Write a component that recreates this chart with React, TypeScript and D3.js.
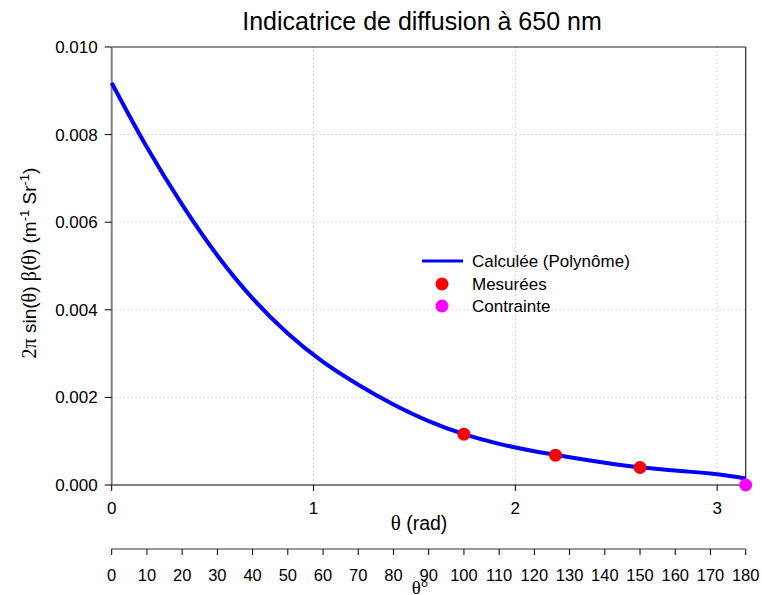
import React from "react";
import * as d3 from "d3";

const curveDeg = [0, 10, 20, 30, 40, 50, 60, 70, 80, 90, 100, 110, 120, 130, 140, 150, 160, 170, 175, 180];
const curveVal = [0.00918, 0.00771, 0.0064, 0.00524, 0.00426, 0.00346, 0.00281, 0.00229, 0.00184, 0.00146, 0.00116, 0.00094, 0.00077, 0.000635, 0.00051, 0.000405, 0.00033, 0.00026, 0.00021, 0.00015];
const measuredDeg = [100, 126, 150];
const measuredVal = [0.00116, 0.00068, 0.0004];
const constraintDeg = [180];
const constraintVal = [0];
const yTicks = [0, 0.002, 0.004, 0.006, 0.008, 0.01];
const radTicks = [0, 1, 2, 3];
const degTicks = d3.range(0, 181, 10);
const legendLabels = ["Calculée (Polynôme)", "Mesurées", "Contrainte"];

const L = 111.7, R = 745.7, T = 47, B = 485;
const FONT = "'Liberation Sans', Arial, sans-serif";
const SERIF = "'Liberation Serif', 'Times New Roman', serif";

export default function App() {
  const x = d3.scaleLinear().domain([0, Math.PI]).range([L, R]);
  const xd = d3.scaleLinear().domain([0, 180]).range([L, R]);
  const y = d3.scaleLinear().domain([0, 0.01]).range([B, T]);
  const rad = (d: number) => (d * Math.PI) / 180;
  const pts = curveDeg.map((d, i) => [x(rad(d)), y(curveVal[i])] as [number, number]);
  const path = d3.line().curve(d3.curveMonotoneX)(pts) || "";
  const degAxisY = 549;

  return (
    <svg width={762} height={595} style={{ position: "absolute", left: 0, top: 0, background: "#fff" }} fontFamily={FONT}>
      <rect x={0} y={0} width={762} height={595} fill="#fff" />
      <text x={422} y={30} textAnchor="middle" fontSize={25}>Indicatrice de diffusion à 650 nm</text>
      {/* grid */}
      {yTicks.slice(1, -1).map((t) => (
        <line key={"gy" + t} x1={L} x2={R} y1={y(t)} y2={y(t)} stroke="#b8b8b8" strokeWidth={1} strokeDasharray="1,3" />
      ))}
      {radTicks.slice(1).map((t) => (
        <line key={"gx" + t} x1={x(t)} x2={x(t)} y1={T} y2={B} stroke="#b8b8b8" strokeWidth={1} strokeDasharray="1,3" />
      ))}
      {/* frame */}
      <line x1={L} x2={R} y1={T} y2={T} stroke="#222" strokeWidth={1.2} />
      <line x1={R} x2={R} y1={T} y2={B} stroke="#222" strokeWidth={1.2} />
      <line x1={L} x2={L} y1={T} y2={B + 1} stroke="#808080" strokeWidth={2} />
      <line x1={L - 1} x2={R} y1={B} y2={B} stroke="#808080" strokeWidth={2} />
      {/* y ticks */}
      {yTicks.map((t) => (
        <g key={"yt" + t}>
          <line x1={L - 7} x2={L} y1={y(t)} y2={y(t)} stroke="#000" strokeWidth={1} />
          <text x={L - 14} y={y(t) + 6} textAnchor="end" fontSize={17}>{d3.format(".3f")(t)}</text>
        </g>
      ))}
      {/* rad ticks */}
      {radTicks.map((t) => (
        <g key={"xt" + t}>
          <line x1={x(t)} x2={x(t)} y1={B} y2={B + 6} stroke="#000" strokeWidth={1} />
          <text x={x(t)} y={514} textAnchor="middle" fontSize={17}>{t}</text>
        </g>
      ))}
      <text x={419} y={530} textAnchor="middle" fontSize={19.5}>
        <tspan fontFamily={SERIF} fontSize={21}>θ</tspan> (rad)
      </text>
      {/* degree axis */}
      <line x1={L} x2={R} y1={degAxisY} y2={degAxisY} stroke="#333" strokeWidth={1.2} />
      {degTicks.map((t) => (
        <g key={"dt" + t}>
          <line x1={xd(t)} x2={xd(t)} y1={degAxisY} y2={degAxisY + 6} stroke="#000" strokeWidth={1} />
          <text x={xd(t)} y={581} textAnchor="middle" fontSize={16.5}>{t}</text>
        </g>
      ))}
      <text x={420} y={594} textAnchor="middle" fontSize={19} fontFamily={SERIF}>θ°</text>
      {/* y label */}
      <text transform="translate(36,263) rotate(-90)" textAnchor="middle" fontSize={19}>
        <tspan fontFamily={SERIF} fontSize={20}>2π</tspan> sin(<tspan fontFamily={SERIF} fontSize={20}>θ</tspan>) <tspan fontFamily={SERIF} fontSize={20}>β</tspan>(<tspan fontFamily={SERIF} fontSize={20}>θ</tspan>) (m<tspan dy={-7} fontSize={13}>-1</tspan><tspan dy={7}> Sr</tspan><tspan dy={-7} fontSize={13}>-1</tspan><tspan dy={7}>)</tspan>
      </text>
      {/* curve */}
      <path d={path} fill="none" stroke="#0000ff" strokeWidth={4} />
      {measuredDeg.map((d, i) => (
        <circle key={"m" + d} cx={x(rad(d))} cy={y(measuredVal[i])} r={6.5} fill="#ff0000" />
      ))}
      {constraintDeg.map((d, i) => (
        <circle key={"c" + d} cx={x(rad(d))} cy={y(constraintVal[i])} r={6.5} fill="#ff00ff" />
      ))}
      {/* legend */}
      <line x1={422} x2={463} y1={261} y2={261} stroke="#0000ff" strokeWidth={3} />
      <circle cx={442} cy={284} r={6.5} fill="#ff0000" />
      <circle cx={442} cy={306} r={6.5} fill="#ff00ff" />
      {legendLabels.map((l, i) => (
        <text key={l} x={472} y={267 + i * 22.5} fontSize={17}>{l}</text>
      ))}
    </svg>
  );
}
